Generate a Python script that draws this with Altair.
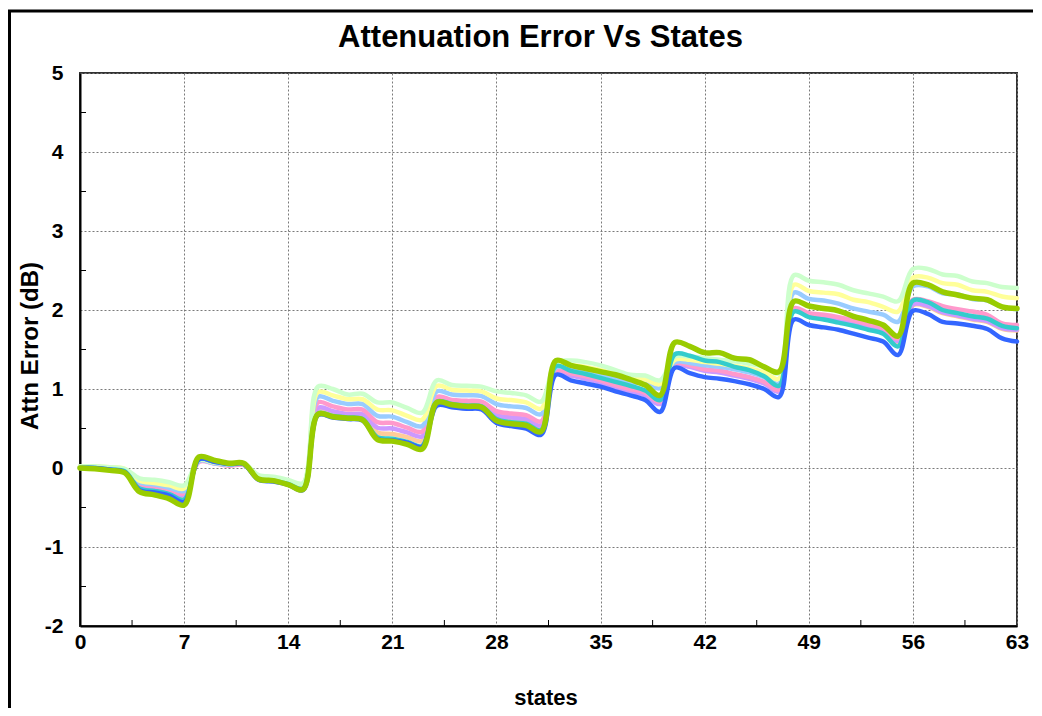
import altair as alt
import pandas as pd

states = list(range(64))

series_names = ["Series 1", "Series 2", "Series 3", "Series 4", "Series 5",
                "Series 6", "Series 7", "Series 8", "Series 9"]
series_colors = ["#FFCC99", "#CC99FF", "#FF99CC", "#99CCFF", "#FFFF99",
                 "#CCFFCC", "#33CCCC", "#3366FF", "#99CC00"]
series_widths = [4.5, 4.5, 4.5, 4.5, 4.5, 4.5, 4.5, 4.5, 5.5]

s_orange = [0.01,0.01,-0.01,-0.03,-0.24,-0.27,-0.31,-0.37,
            0.10,0.07,0.04,0.05,-0.13,-0.15,-0.19,-0.25,
            0.72,0.69,0.66,0.65,0.45,0.43,0.39,0.34,
            0.85,0.82,0.80,0.79,0.64,0.61,0.59,0.51,
            1.22,1.18,1.14,1.09,1.03,0.98,0.93,0.82,
            1.31,1.29,1.24,1.22,1.18,1.14,1.08,0.98,
            2.00,1.94,1.91,1.88,1.83,1.79,1.73,1.60,
            2.06,2.04,1.96,1.92,1.88,1.85,1.76,1.74]
s_lavender = [0.01,0.01,-0.01,-0.03,-0.22,-0.25,-0.29,-0.34,
              0.09,0.06,0.04,0.04,-0.13,-0.15,-0.19,-0.24,
              0.76,0.72,0.68,0.68,0.51,0.50,0.45,0.40,
              0.87,0.84,0.82,0.81,0.67,0.64,0.62,0.54,
              1.21,1.17,1.13,1.08,1.02,0.97,0.92,0.81,
              1.30,1.28,1.23,1.21,1.17,1.13,1.07,0.97,
              2.00,1.94,1.92,1.89,1.84,1.80,1.74,1.61,
              2.07,2.05,1.97,1.93,1.89,1.86,1.77,1.75]
s_pink = [0.02,0.01,0.00,-0.02,-0.20,-0.23,-0.27,-0.32,
          0.08,0.06,0.03,0.04,-0.12,-0.14,-0.18,-0.23,
          0.83,0.78,0.74,0.74,0.58,0.57,0.51,0.46,
          0.90,0.86,0.85,0.84,0.72,0.69,0.67,0.59,
          1.23,1.20,1.16,1.11,1.05,1.00,0.95,0.84,
          1.32,1.30,1.25,1.23,1.19,1.15,1.09,0.99,
          2.02,1.96,1.94,1.91,1.87,1.82,1.77,1.64,
          2.13,2.11,2.05,2.01,1.98,1.94,1.83,1.81]
s_lightblue = [0.02,0.02,0.00,-0.02,-0.18,-0.21,-0.25,-0.29,
               0.09,0.06,0.04,0.05,-0.11,-0.13,-0.17,-0.21,
               0.90,0.85,0.81,0.81,0.66,0.65,0.58,0.53,
               0.97,0.93,0.92,0.91,0.81,0.78,0.76,0.68,
               1.27,1.26,1.23,1.19,1.14,1.08,1.07,1.01,
               1.34,1.33,1.30,1.28,1.25,1.21,1.15,1.07,
               2.22,2.14,2.12,2.08,2.02,1.98,1.94,1.85,
               2.30,2.30,2.21,2.20,2.14,2.12,2.04,2.01]
s_yellow = [0.02,0.02,0.01,-0.01,-0.16,-0.19,-0.22,-0.26,
            0.10,0.07,0.05,0.05,-0.10,-0.12,-0.16,-0.20,
            0.96,0.92,0.87,0.87,0.74,0.73,0.66,0.61,
            1.04,0.99,0.98,0.97,0.88,0.86,0.83,0.75,
            1.30,1.30,1.28,1.24,1.19,1.13,1.12,1.06,
            1.37,1.37,1.34,1.32,1.29,1.26,1.21,1.13,
            2.32,2.24,2.22,2.20,2.13,2.10,2.04,1.98,
            2.41,2.41,2.34,2.32,2.25,2.23,2.17,2.15]
s_lightgreen = [0.02,0.02,0.01,-0.01,-0.13,-0.15,-0.18,-0.22,
                0.10,0.08,0.05,0.06,-0.09,-0.11,-0.15,-0.19,
                1.03,1.00,0.93,0.94,0.83,0.83,0.76,0.70,
                1.11,1.05,1.04,1.03,0.97,0.95,0.92,0.84,
                1.33,1.36,1.34,1.30,1.24,1.18,1.17,1.11,
                1.41,1.41,1.39,1.37,1.35,1.32,1.28,1.20,
                2.44,2.37,2.35,2.32,2.25,2.21,2.17,2.11,
                2.52,2.52,2.45,2.43,2.36,2.34,2.29,2.28]
s_teal = [0.00,0.00,-0.02,-0.04,-0.26,-0.29,-0.33,-0.40,
          0.11,0.08,0.05,0.05,-0.14,-0.16,-0.20,-0.26,
          0.69,0.66,0.64,0.62,0.39,0.37,0.33,0.28,
          0.84,0.81,0.79,0.78,0.62,0.58,0.56,0.48,
          1.29,1.23,1.19,1.14,1.09,1.04,0.98,0.86,
          1.44,1.42,1.36,1.34,1.28,1.24,1.16,1.04,
          1.98,1.91,1.88,1.84,1.80,1.75,1.70,1.54,
          2.12,2.10,2.00,1.96,1.92,1.89,1.80,1.77]
s_blue = [0.00,0.00,-0.02,-0.05,-0.28,-0.31,-0.35,-0.43,
          0.11,0.08,0.05,0.05,-0.15,-0.17,-0.21,-0.28,
          0.67,0.64,0.62,0.60,0.37,0.35,0.32,0.27,
          0.79,0.77,0.75,0.74,0.57,0.53,0.50,0.42,
          1.18,1.11,1.07,1.03,0.97,0.92,0.86,0.71,
          1.27,1.20,1.15,1.13,1.10,1.06,1.00,0.90,
          1.88,1.81,1.78,1.75,1.70,1.65,1.60,1.43,
          1.99,1.95,1.85,1.83,1.80,1.76,1.64,1.60]
s_green = [0.00,-0.01,-0.03,-0.06,-0.30,-0.34,-0.39,-0.47,
           0.14,0.10,0.06,0.06,-0.14,-0.16,-0.21,-0.27,
           0.68,0.65,0.63,0.61,0.36,0.34,0.30,0.24,
           0.83,0.80,0.78,0.77,0.60,0.56,0.54,0.46,
           1.36,1.30,1.26,1.22,1.18,1.12,1.05,0.92,
           1.59,1.54,1.46,1.46,1.39,1.37,1.28,1.22,
           2.11,2.05,2.02,1.99,1.92,1.87,1.81,1.67,
           2.34,2.32,2.23,2.19,2.15,2.13,2.04,2.02]

series_values = [s_orange, s_lavender, s_pink, s_lightblue, s_yellow,
                 s_lightgreen, s_teal, s_blue, s_green]

x_ticks = [0, 7, 14, 21, 28, 35, 42, 49, 56, 63]
y_ticks = [-2, -1, 0, 1, 2, 3, 4, 5]
x_minor = [3.5, 10.5, 17.5, 24.5, 31.5, 38.5, 45.5, 52.5, 59.5]
y_minor = [-1.5, -0.5, 0.5, 1.5, 2.5, 3.5, 4.5]

W, H = 937, 553
FONT = "Liberation Sans"

rows = []
for name, vals in zip(series_names, series_values):
    for s, v in zip(states, vals):
        rows.append({"state": s, "error": v, "series": name})
df = pd.DataFrame(rows)

xscale = alt.Scale(domain=[0, 63], nice=False, zero=False)
yscale = alt.Scale(domain=[-2, 5], nice=False, zero=False)
cscale = alt.Scale(domain=series_names, range=series_colors)

xaxis = alt.Axis(values=x_ticks, title="states", grid=True,
                 ticks=False, tickSize=0, labelPadding=5,
                 labelFontSize=21, labelFontWeight="bold",
                 labelFont=FONT, labelColor="black",
                 labelExpr="'' + datum.value",
                 titleFont=FONT, titleFontSize=22,
                 titleFontWeight="bold", titleColor="black",
                 titleX=W / 2 - 3, titleY=71, titleBaseline="middle",
                 labelFlush=False, domainColor="black", domainWidth=2,
                 gridColor="#7a7a7a", gridDash=[2, 2], gridWidth=1)
yaxis = alt.Axis(values=y_ticks, title="Attn Error (dB)", grid=True,
                 ticks=False, tickSize=0, labelPadding=17,
                 labelFontSize=21, labelFontWeight="bold",
                 labelFont=FONT, labelColor="black",
                 labelExpr="'' + datum.value",
                 titleFont=FONT, titleFontSize=24,
                 titleFontWeight="bold", titleColor="black",
                 titleX=-50, titleY=H / 2 - 4, titleAngle=270,
                 titleAlign="center", titleBaseline="middle",
                 labelFlush=False, domainColor="black", domainWidth=2,
                 gridColor="#7a7a7a", gridDash=[2, 2], gridWidth=1)

layers = []
for name, w in zip(series_names, series_widths):
    layers.append(
        alt.Chart(df)
        .transform_filter(alt.datum.series == name)
        .mark_line(interpolate="catmull-rom", strokeWidth=w, strokeCap="round",
                   strokeJoin="round")
        .encode(x=alt.X("state:Q", scale=xscale, axis=xaxis),
                y=alt.Y("error:Q", scale=yscale, axis=yaxis),
                color=alt.Color("series:N", scale=cscale, legend=None))
    )

ym_df = pd.DataFrame({"error": y_minor})
xm_df = pd.DataFrame({"state": x_minor})
y_minor_layer = alt.Chart(ym_df).mark_rule(color="black", strokeWidth=1).encode(
    y=alt.Y("error:Q", scale=yscale, axis=yaxis), x=alt.value(0), x2=alt.value(6))
x_minor_layer = alt.Chart(xm_df).mark_rule(color="black", strokeWidth=1).encode(
    x=alt.X("state:Q", scale=xscale, axis=xaxis), y=alt.value(H), y2=alt.value(H - 6))

frame_df = pd.DataFrame({"k": [0]})
frame_left = alt.Chart(frame_df).mark_rule(color="black", strokeWidth=4).encode(
    x=alt.value(-71), y=alt.value(-63), y2=alt.value(H + 82))
frame_top = alt.Chart(frame_df).mark_rule(color="black", strokeWidth=3).encode(
    x=alt.value(-73), x2=alt.value(W + 16), y=alt.value(-62))

chart = alt.layer(*layers, y_minor_layer, x_minor_layer, frame_left, frame_top).properties(
    width=W, height=H,
    background="white",
    title=alt.TitleParams("Attenuation Error Vs States", font=FONT, fontSize=31,
                          fontWeight="bold", color="black", anchor="middle",
                          frame="group", offset=-70, baseline="alphabetic", dx=-8),
    autosize=alt.AutoSizeParams(type="none"),
    padding={"left": 72, "top": 65, "right": 16, "bottom": 82},
).configure_view(
    stroke="#333333", strokeWidth=2
)

chart.save("out.html", embed_options={"renderer": "svg", "actions": False})
